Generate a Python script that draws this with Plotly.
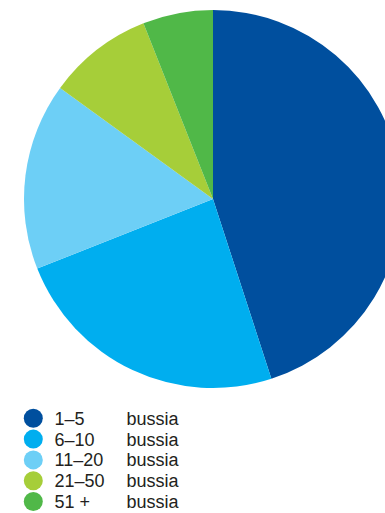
import plotly.graph_objects as go

# ---- data ----
categories = ["1–5", "6–10", "11–20", "21–50", "51 +"]
unit_labels = ["bussia", "bussia", "bussia", "bussia", "bussia"]
values = [45, 24, 16, 9, 6]
colors = ["#004F9E", "#00AEEF", "#6DCFF6", "#A6CE39", "#50B848"]

# ---- layout geometry (pixels) ----
W, H = 425, 513          # figure wider than the window so the pie runs off the right edge
cx, cy, r = 213, 199, 189
text_font = "Liberation Sans, Arial, sans-serif"
text_color = "#231F20"
row0_y, row_step = 418.3, 20.8        # key rows
text_drop = 2.0                        # text baseline sits slightly below swatch centre
swatch_x, label_x, unit_x = 33.3, 54.5, 126.5
text_size = 18

fig = go.Figure()
fig.add_trace(go.Pie(
    labels=categories, values=values,
    marker=dict(colors=colors, line=dict(width=0)),
    sort=False, direction="clockwise", rotation=0,
    textinfo="none", hoverinfo="label+value", showlegend=False,
    domain=dict(x=[(cx - r) / W, (cx + r) / W],
                y=[(H - cy - r) / H, (H - cy + r) / H]),
))

# key (legend) drawn on hidden axes: one row per category
n = len(categories)
fig.add_trace(go.Scatter(
    x=[swatch_x] * n, y=categories, mode="markers",
    marker=dict(color=colors, size=19, symbol="circle", line=dict(width=0)),
    hoverinfo="skip", showlegend=False, cliponaxis=False,
))
fig.add_trace(go.Scatter(
    x=[label_x] * n, y=categories, mode="text", text=categories, yaxis="y2",
    textposition="middle right",
    textfont=dict(family=text_font, size=text_size, color=text_color),
    hoverinfo="skip", showlegend=False, cliponaxis=False,
))
fig.add_trace(go.Scatter(
    x=[unit_x] * n, y=categories, mode="text", text=unit_labels, yaxis="y2",
    textposition="middle right",
    textfont=dict(family=text_font, size=text_size, color=text_color),
    hoverinfo="skip", showlegend=False, cliponaxis=False,
))

y_top = -row0_y / row_step
y_bot = y_top + H / row_step
d = text_drop / row_step

fig.update_layout(
    width=W, height=H,
    margin=dict(l=0, r=0, t=0, b=0, autoexpand=False),
    paper_bgcolor="white", plot_bgcolor="rgba(0,0,0,0)",
    xaxis=dict(visible=False, range=[0, W], fixedrange=True),
    yaxis=dict(visible=False, type="category", categoryorder="array",
               categoryarray=categories, range=[y_bot, y_top], fixedrange=True),
    yaxis2=dict(visible=False, type="category", categoryorder="array",
                categoryarray=categories, range=[y_bot - d, y_top - d],
                overlaying="y", fixedrange=True),
    showlegend=False,
    font=dict(family=text_font, color=text_color),
)

fig.write_html(
    "out.html",
    post_script="document.documentElement.style.overflow='hidden';document.body.style.overflow='hidden';",
)
